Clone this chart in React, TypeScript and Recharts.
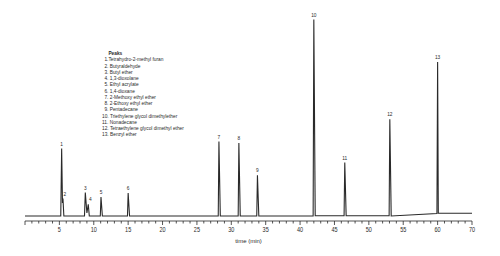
import { LineChart, Line, XAxis, YAxis, LabelList, Label } from 'recharts'

// chromatogram trace (time in min, signal in arbitrary units)
const traceTime = [
  0, 5.2, 5.33, 5.45, 5.52, 5.65, 8.65, 8.77, 9.0, 9.2, 9.35, 10.95, 11.05, 11.25,
  14.9, 15.0, 15.2, 28.1, 28.2, 28.4, 31.0, 31.1, 31.3, 33.7, 33.8, 34.0,
  41.9, 42.0, 42.2, 46.4, 46.5, 46.7, 52.95, 53.05, 53.25, 59.9, 60.0, 60.2, 70,
]
const traceSignal = [
  5, 5, 72.4, 18, 22.4, 5, 5, 28.4, 8, 16.7, 5, 5, 24, 5,
  5, 28, 5, 5, 79.4, 5, 5, 78, 5, 5, 45.7, 5,
  5, 201.4, 5.3, 5.3, 58.4, 5.2, 5.2, 101.7, 5, 7.4, 159, 7.7, 7.7,
]

const peakTimes = [5.33, 5.52, 8.77, 9.2, 11.05, 15.0, 28.2, 31.1, 33.8, 42.0, 46.5, 53.05, 60.0]

const peakNames = [
  'Tetrahydro-2-methyl furan',
  'Butyraldehyde',
  'Butyl ether',
  '1,3-dioxolane',
  'Ethyl acrylate',
  '1,4-dioxane',
  '2-Methoxy ethyl ether',
  '2-Ethoxy ethyl ether',
  'Pentadecane',
  'Triethylene glycol dimethylether',
  'Nonadecane',
  'Tetraethylene glycol dimethyl ether',
  'Benzyl ether',
]

const axisTicks = Array.from({ length: 66 }, (_, i) => i)

const FONT = "'Liberation Sans', Arial, sans-serif"
const INK = '#2a2a2a'

// the printed axis is squeezed after 60 min (60..70 drawn over 5 units)
const toAxis = (t: number) => (t <= 60 ? t : 60 + (t - 60) / 2)
const fromAxis = (v: number) => (v <= 60 ? v : 60 + (v - 60) * 2)

const data = traceTime.map((t, i) => {
  const p = peakTimes.indexOf(t)
  return { t: toAxis(t), s: traceSignal[i], peak: p >= 0 ? String(p + 1) : undefined }
})

function TimeTick(props: any) {
  const { x, y, payload } = props
  const v = payload.value as number
  const major = v % 5 === 0
  return (
    <g>
      <line x1={x} x2={x} y1={y} y2={y + (major ? 4 : 2.5)} stroke={INK} strokeWidth={0.8} />
      {major && v !== 0 && (
        <text
          x={x}
          y={y + 11.5}
          textAnchor="middle"
          fontSize={6.5}
          fontFamily={FONT}
          fill={INK}
          transform={`translate(${x * 0.15} 0) scale(0.85 1)`}
        >
          {fromAxis(v)}
        </text>
      )}
    </g>
  )
}

function PeakLabel(props: any) {
  const { x, y, value } = props
  if (!value) return null
  const dx = value === '2' || value === '4' ? 2 : 0
  const cx = x + dx
  return (
    <text
      x={cx}
      y={y - 3}
      textAnchor="middle"
      fontSize={6}
      fontFamily={FONT}
      fill={INK}
      transform={`translate(${cx * 0.2} 0) scale(0.8 1)`}
    >
      {value}
    </text>
  )
}

export default function App() {
  return (
    <div style={{ position: 'absolute', left: 0, top: 0, width: 500, height: 256, background: '#fff' }}>
      <LineChart width={500} height={256} data={data} margin={{ top: 16, right: 28, bottom: 0, left: 25 }}>
        <XAxis
          dataKey="t"
          type="number"
          domain={[0, 65]}
          ticks={axisTicks}
          interval={0}
          tick={<TimeTick />}
          tickLine={false}
          tickSize={0}
          tickMargin={0}
          axisLine={{ stroke: INK, strokeWidth: 0.8 }}
          height={35}
        >
          <Label value="time (min)" position="insideBottom" offset={13} fontSize={6} fontFamily={FONT} fill={INK} />
        </XAxis>
        <YAxis hide domain={[0, 205]} />
        <Line type="linear" dataKey="s" stroke={INK} strokeWidth={1.1} dot={false} isAnimationActive={false}>
          <LabelList dataKey="peak" content={<PeakLabel />} />
        </Line>
      </LineChart>
      <div
        style={{
          position: 'absolute',
          left: 102,
          top: 50,
          fontFamily: FONT,
          fontSize: 6,
          lineHeight: '6.25px',
          color: INK,
          transform: 'scaleX(0.8)',
          transformOrigin: 'left top',
        }}
      >
        <div style={{ fontWeight: 'bold', paddingLeft: 8 }}>Peaks</div>
        {peakNames.map((n, i) => (
          <div key={n} style={{ paddingLeft: i < 9 ? 3 : 0, whiteSpace: 'nowrap' }}>
            {i + 1}.{i === 0 ? '' : ' '}{n}
          </div>
        ))}
      </div>
    </div>
  )
}
